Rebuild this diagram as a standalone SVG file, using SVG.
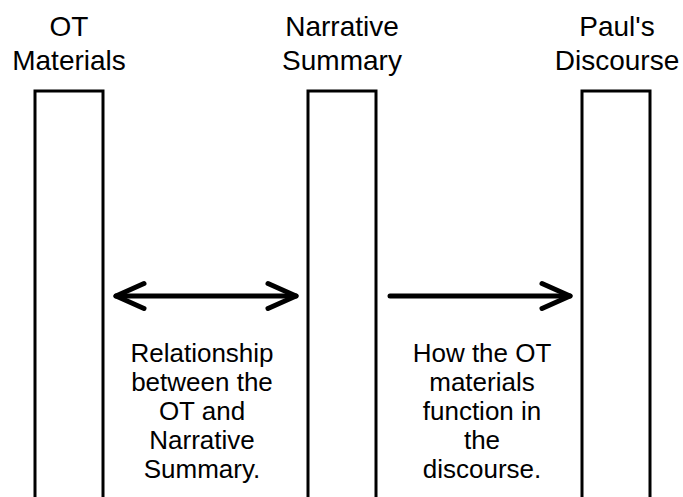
<svg xmlns="http://www.w3.org/2000/svg" width="683" height="497" viewBox="0 0 683 497">
<style>
.col{fill:#fff;stroke:#000;stroke-width:3}
.hd{font-family:"Liberation Sans",Arial,sans-serif;font-size:28px;fill:#000;text-anchor:middle}
.lb{font-family:"Liberation Sans",Arial,sans-serif;font-size:26px;fill:#000;text-anchor:middle}
.ar{stroke:#000;stroke-width:5;stroke-linecap:round;fill:none}
</style>
<defs>
<marker id="chev" markerUnits="userSpaceOnUse" markerWidth="40" markerHeight="40" refX="0" refY="0" orient="auto-start-reverse" overflow="visible">
<path d="M-28,-12.5 L0,0 L-28,12.5" fill="none" stroke="#000" stroke-width="5" stroke-linecap="round" stroke-linejoin="round"/>
</marker>
</defs>
<rect width="683" height="497" fill="#fff"/>
<g id="ot-materials">
<rect class="col" x="35" y="91" width="68" height="420"/>
<text class="hd" x="69" y="36">OT</text>
<text class="hd" x="69" y="70">Materials</text>
</g>
<g id="narrative-summary">
<rect class="col" x="308" y="91" width="68" height="420"/>
<text class="hd" x="342" y="36">Narrative</text>
<text class="hd" x="342" y="70">Summary</text>
</g>
<g id="pauls-discourse">
<rect class="col" x="582" y="91" width="68" height="420"/>
<text class="hd" x="617" y="36">Paul's</text>
<text class="hd" x="617" y="70">Discourse</text>
</g>
<g id="connectors">
<line class="ar" x1="116" y1="296" x2="296" y2="296" marker-start="url(#chev)" marker-end="url(#chev)"/>
<line class="ar" x1="390" y1="296" x2="570" y2="296" marker-end="url(#chev)"/>
</g>
<g id="label-left">
<text class="lb" x="202" y="362">Relationship</text>
<text class="lb" x="202" y="391">between the</text>
<text class="lb" x="202" y="420">OT and</text>
<text class="lb" x="202" y="449">Narrative</text>
<text class="lb" x="202" y="478">Summary.</text>
</g>
<g id="label-right">
<text class="lb" x="482" y="362">How the OT</text>
<text class="lb" x="482" y="391">materials</text>
<text class="lb" x="482" y="420">function in</text>
<text class="lb" x="482" y="449">the</text>
<text class="lb" x="482" y="478">discourse.</text>
</g>
</svg>
